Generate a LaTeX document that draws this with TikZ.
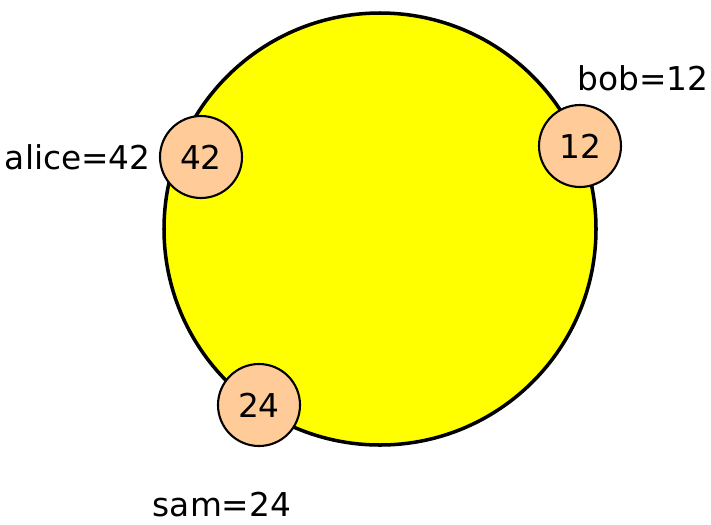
\documentclass[tikz,border=0pt]{standalone}
\usepackage{fontspec}
\setmainfont{DejaVu Sans}
\usetikzlibrary{positioning}
\definecolor{ringyellow}{HTML}{FFFF00}
\definecolor{peer}{HTML}{FFCC99}

\begin{document}
\begin{tikzpicture}[
    x=0.03cm, y=-0.03cm,
    ring/.style={draw=black, line width=3pt, fill=ringyellow, circle, minimum size=432*0.03cm, inner sep=0pt},
    peernode/.style={draw=black, line width=1.8pt, fill=peer, circle, minimum size=82*0.03cm, inner sep=0pt, font=\fontsize{28}{32}\selectfont},
    tag/.style={font=\fontsize{28}{32}\selectfont, inner sep=0pt},
    node distance=0.24cm
  ]
    \useasboundingbox (0,0) rectangle (711,524);

    \node[ring] (ring) at (380,229) {};

    \node[peernode] (p42) at (201,157) {42};
    \node[peernode] (p12) at (580,146) {12};
    \node[peernode] (p24) at (259,405) {24};

    \node[tag, left=of p42] (alice) {alice=42};
    \node[tag] (bob) at (643,78) {bob=12};
    \node[tag] (sam) at (222,505) {sam=24};

  \end{tikzpicture}
\end{document}
